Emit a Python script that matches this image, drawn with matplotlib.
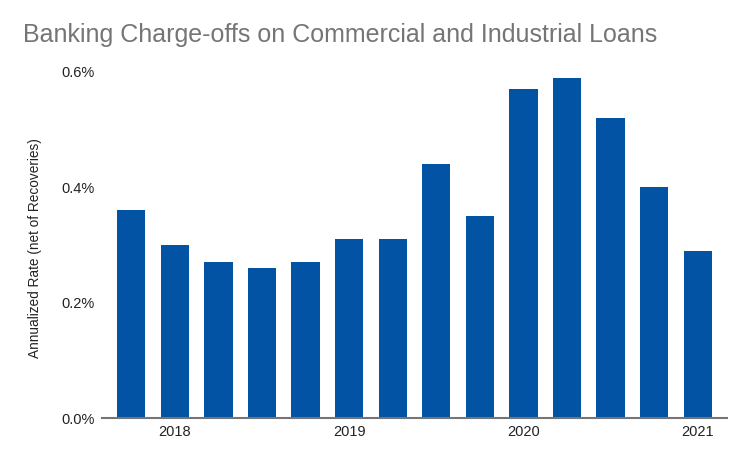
import matplotlib
matplotlib.use("Agg")
import matplotlib.pyplot as plt
import numpy as np

quarters = ["2017Q4", "2018Q1", "2018Q2", "2018Q3", "2018Q4", "2019Q1", "2019Q2",
            "2019Q3", "2019Q4", "2020Q1", "2020Q2", "2020Q3", "2020Q4", "2021Q1"]
rates = [0.36, 0.30, 0.27, 0.26, 0.27, 0.31, 0.31, 0.44, 0.35, 0.57, 0.59, 0.52, 0.40, 0.29]
year_ticks = ["2018", "2019", "2020", "2021"]
y_ticks = [0.0, 0.2, 0.4, 0.6]

BLUE = "#0253A4"
GRAY = "#757575"

plt.rcParams["font.family"] = ["Liberation Sans", "DejaVu Sans"]

fig = plt.figure(figsize=(7.5, 4.63), dpi=100)
ax = fig.add_axes([102 / 750, 45 / 463, 625 / 750, 346 / 463])

x = np.arange(len(quarters))
ax.bar(x, rates, width=0.65, color=BLUE, zorder=2)

ax.set_xlim(-0.67, len(quarters) - 1 + 0.67)
ax.set_ylim(0, 0.6)

tick_pos = [quarters.index(y + "Q1") for y in year_ticks]
ax.set_xticks(tick_pos)
ax.set_xticklabels(year_ticks, fontsize=10.5, color="#222222")
ax.set_yticks(y_ticks)
ax.set_yticklabels([f"{v:.1f}%" for v in y_ticks], fontsize=10.5, color="#222222", ha="left")
ax.tick_params(axis="both", length=0)
ax.tick_params(axis="x", pad=5)
ax.tick_params(axis="y", pad=29.5)

for side in ["top", "right", "left"]:
    ax.spines[side].set_visible(False)
ax.spines["bottom"].set_color(GRAY)
ax.spines["bottom"].set_linewidth(1.5)
ax.spines["bottom"].set_zorder(3)

ax.set_ylabel("Annualized Rate (net of Recoveries)", fontsize=9.8, color="#222222")
ax.yaxis.set_label_coords(-60 / 625, 0.49)

fig.text(23 / 750, 1 - 35 / 463, "Banking Charge-offs on Commercial and Industrial Loans",
         fontsize=18, color=GRAY, va="center", ha="left")

fig.savefig("out.png", dpi=100)
